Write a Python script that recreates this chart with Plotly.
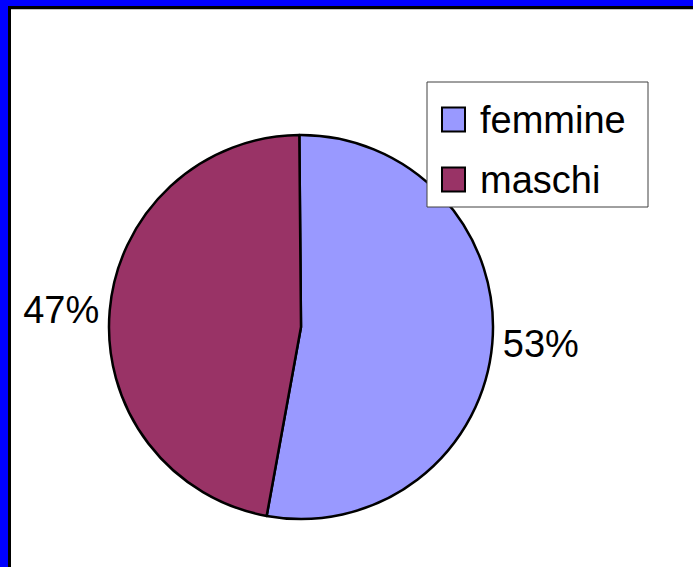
import plotly.graph_objects as go

# ---- data ----
labels = ["femmine", "maschi"]
values = [53, 47]
colors = ["#9999FF", "#993366"]

W, H = 693, 567
FONT = "Arial, Liberation Sans, sans-serif"

def px_x(x):
    return x / W

def px_y(y):
    return 1 - y / H

fig = go.Figure()

# pie: center ~(301,327), radius ~192
cx, cy, r = 301, 327, 192
fig.add_trace(go.Pie(
    labels=labels,
    values=values,
    sort=False,
    direction="clockwise",
    rotation=-0.5,
    marker=dict(colors=colors, line=dict(color="black", width=2.5)),
    textposition="outside",
    texttemplate="%{percent:.0%}",
    textfont=dict(family=FONT, size=38, color="black"),
    domain=dict(x=[px_x(cx - r), px_x(cx + r)], y=[px_y(cy + r), px_y(cy - r)]),
    showlegend=False,
    hoverinfo="label+percent",
))

shapes = []
# frame: blue bars on top and left, black inner lines
shapes.append(dict(type="rect", xref="paper", yref="paper", x0=0, x1=1, y0=px_y(6), y1=1,
                   fillcolor="#0000FF", line=dict(width=0), layer="above"))
shapes.append(dict(type="rect", xref="paper", yref="paper", x0=0, x1=px_x(8), y0=0, y1=1,
                   fillcolor="#0000FF", line=dict(width=0), layer="above"))
shapes.append(dict(type="rect", xref="paper", yref="paper", x0=px_x(8), x1=1, y0=px_y(9), y1=px_y(6),
                   fillcolor="#000000", line=dict(width=0), layer="above"))
shapes.append(dict(type="rect", xref="paper", yref="paper", x0=px_x(8), x1=px_x(11), y0=0, y1=px_y(6),
                   fillcolor="#000000", line=dict(width=0), layer="above"))
shapes.append(dict(type="rect", xref="paper", yref="paper", x0=px_x(11), x1=1, y0=px_y(10), y1=px_y(9),
                   fillcolor="#C0C0C0", line=dict(width=0), layer="above"))

# legend box
shapes.append(dict(type="rect", xref="paper", yref="paper",
                   x0=px_x(427), x1=px_x(648), y0=px_y(207), y1=px_y(82),
                   fillcolor="white", line=dict(color="#404040", width=1), layer="above"))

annotations = []
item_y = [119.5, 179.5]
for lab, col, yc in zip(labels, colors, item_y):
    shapes.append(dict(type="rect", xref="paper", yref="paper",
                       x0=px_x(442), x1=px_x(465), y0=px_y(yc + 12), y1=px_y(yc - 12),
                       fillcolor=col, line=dict(color="black", width=2), layer="above"))
    annotations.append(dict(xref="paper", yref="paper", x=px_x(478), y=px_y(yc),
                            xanchor="left", yanchor="middle", showarrow=False, text=lab,
                            font=dict(family=FONT, size=38, color="black")))

fig.update_layout(
    width=W, height=H,
    margin=dict(l=0, r=0, t=0, b=0),
    paper_bgcolor="white",
    plot_bgcolor="white",
    shapes=shapes,
    annotations=annotations,
    showlegend=False,
)

fig.write_html(
    "out.html",
    config={"displayModeBar": False},
    post_script="document.body.style.margin='0';document.body.style.overflow='hidden';",
)
